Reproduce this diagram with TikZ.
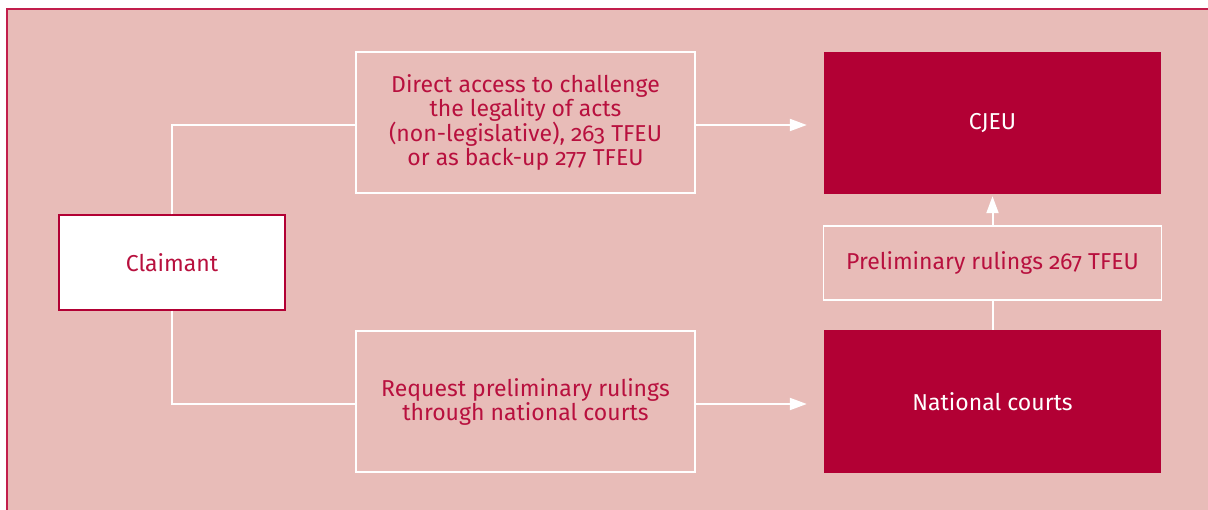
\documentclass[tikz,border=0pt]{standalone}
\usepackage{fontspec}
\setmainfont[Numbers=OldStyle]{Fira Sans}
\usetikzlibrary{arrows.meta}
\definecolor{bgpink}{HTML}{E8BCB8}
\definecolor{darkred}{HTML}{B20034}
\definecolor{txtred}{HTML}{B8103E}
\definecolor{framered}{HTML}{C21E4C}
\begin{document}
\begin{tikzpicture}[x=1pt,y=-1pt,
  every node/.style={font=\fontsize{23}{24}\selectfont, align=center, inner sep=0pt},
  outlinebox/.style={draw=white, line width=1.5pt, text=txtred},
  whitebox/.style={draw=darkred, line width=1.2pt, fill=white, text=txtred},
  solidbox/.style={fill=darkred, text=white},
  conn/.style={draw=white, line width=2pt},
  arr/.style={conn, -{Triangle[length=17pt,width=12pt]}}]
\useasboundingbox (0,0) rectangle (1208,510);
\fill[bgpink] (7,9) rectangle (1208,510);
\draw[framered, line width=2.5pt] (7,510) -- (7,9) -- (1208,9);

\node[whitebox, minimum width=226pt, minimum height=95pt] (claimant) at (172,262.5) {Claimant};
\node[outlinebox, minimum width=339pt, minimum height=141pt] (direct) at (525.5,122.5)
  {Direct access to challenge\\the legality of acts\\(non-legislative), 263 TFEU\\or as back-up 277 TFEU};
\node[outlinebox, minimum width=339pt, minimum height=141pt] (request) at (525.5,401.5)
  {Request preliminary rulings\\through national courts};
\node[solidbox, minimum width=337pt, minimum height=142pt] (cjeu) at (992.5,123) {CJEU};
\node[outlinebox, minimum width=338pt, minimum height=74pt] (prelim) at (992.5,263) {Preliminary rulings 267 TFEU};
\node[solidbox, minimum width=337pt, minimum height=143pt] (national) at (992.5,401.5) {National courts};

\coordinate (inA) at ([yshift=-2.5pt]direct.west);
\coordinate (outA) at ([yshift=-2.5pt]direct.east);
\coordinate (inB) at ([yshift=-2.5pt]request.west);
\coordinate (outB) at ([yshift=-2.5pt]request.east);
\coordinate (tipA) at ([xshift=-17pt]cjeu.west |- outA);
\coordinate (tipB) at ([xshift=-17pt]national.west |- outB);
\coordinate (tipC) at ([yshift=-2pt]cjeu.south);

\draw[conn] (claimant.north) |- (inA);
\draw[conn] (claimant.south) |- (inB);
\draw[arr] (outA) -- (tipA);
\draw[arr] (outB) -- (tipB);
\draw[conn] (national.north) -- (prelim.south);
\draw[arr] (prelim.north) -- (tipC);
\end{tikzpicture}
\end{document}
